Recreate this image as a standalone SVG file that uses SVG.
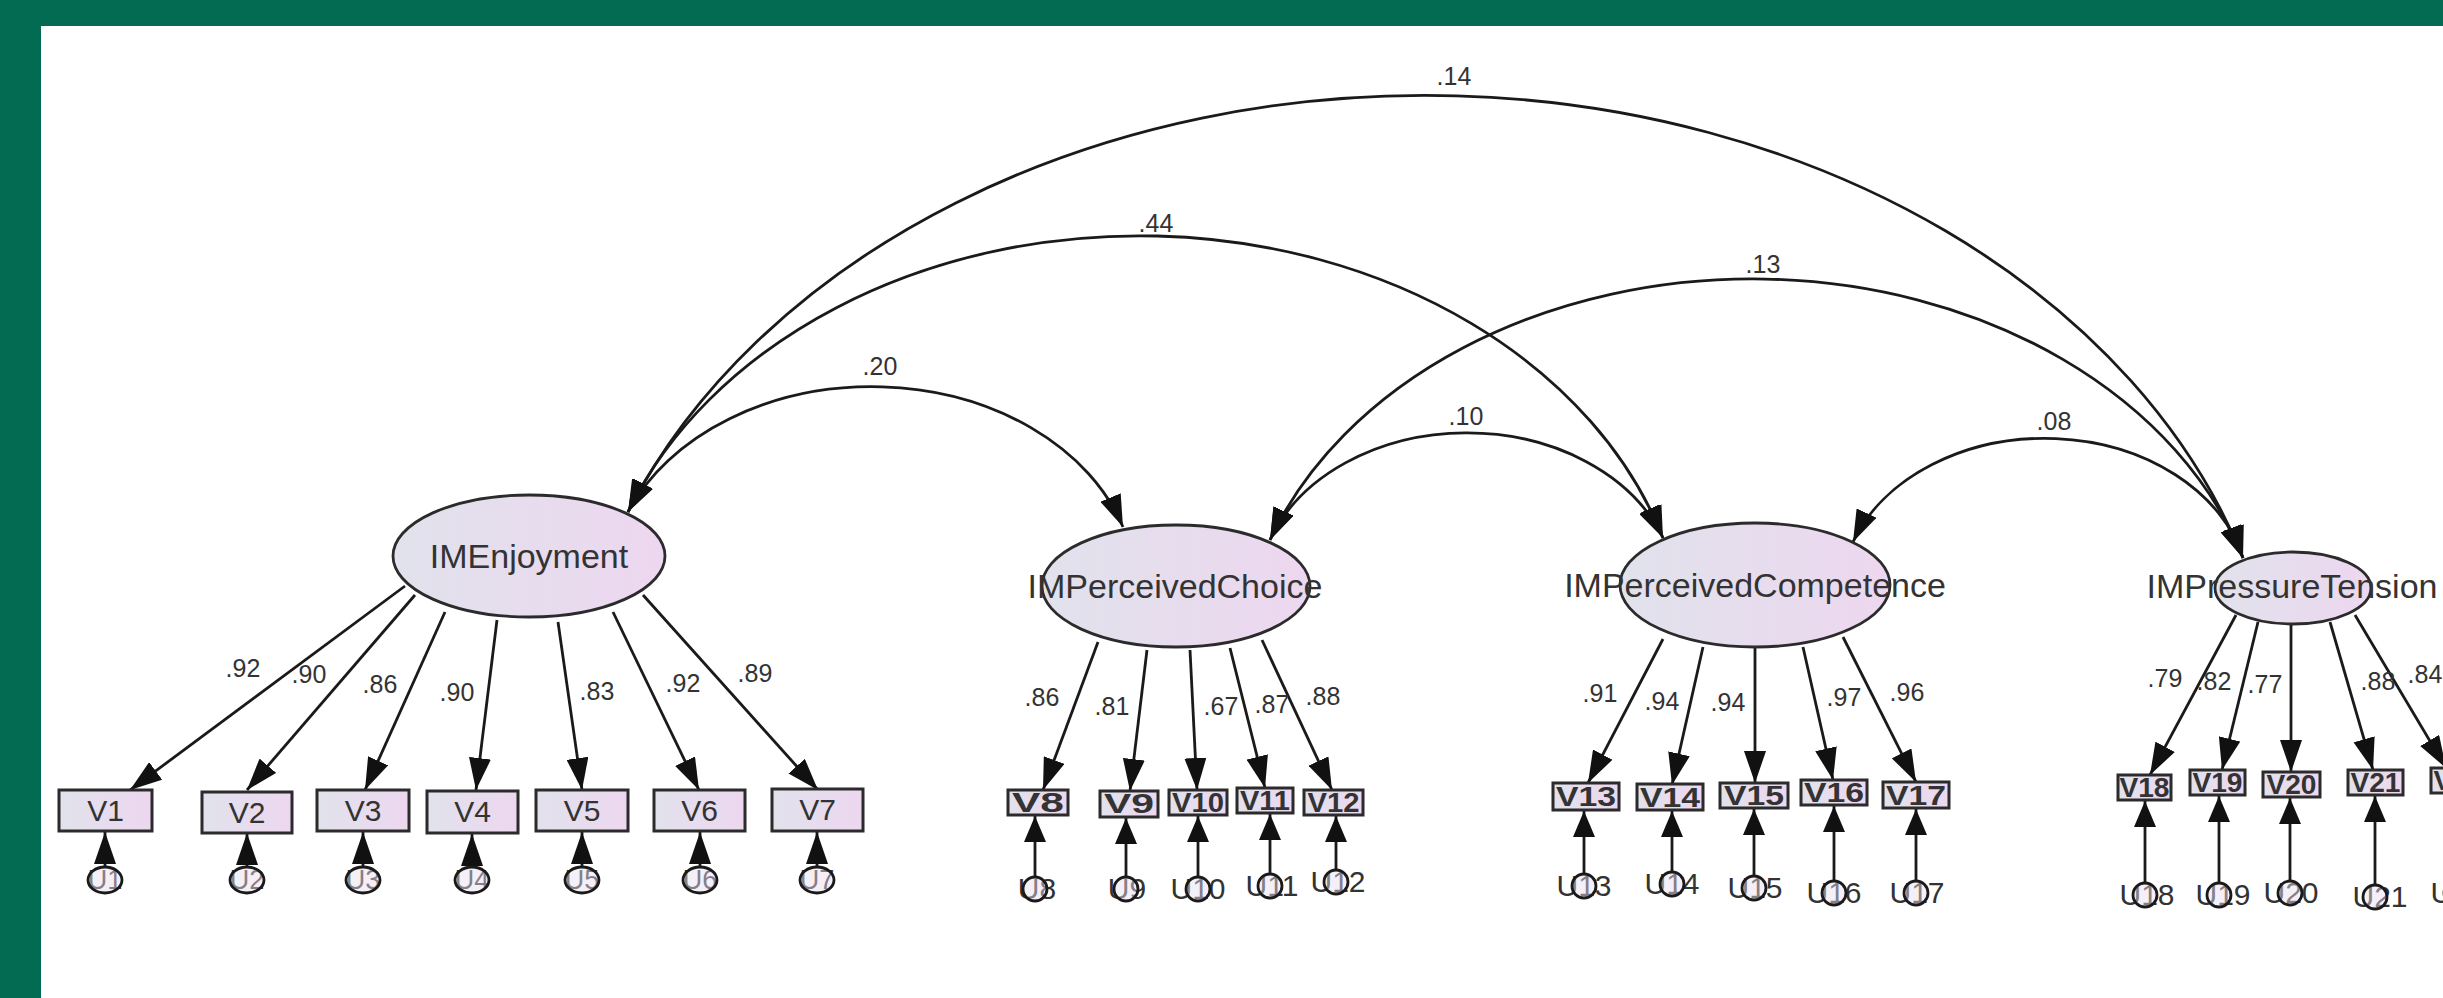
<svg xmlns="http://www.w3.org/2000/svg" width="2443" height="998" viewBox="0 0 2443 998">
<style>
.ln{fill:none;stroke:#1a1a1a;stroke-width:2.8}
.ld{marker-end:url(#ah)}
.cv{marker-start:url(#ah);marker-end:url(#ah)}
.er{marker-end:url(#ahs)}
.er1{marker-end:url(#ah)}
.lat{fill:url(#g);stroke:#2b2b2b;stroke-width:2.8}
.box{fill:url(#g);stroke:#2b2b2b;stroke-width:3}
.ec{fill:url(#g);fill-opacity:0.45;stroke:#1a1a1a;stroke-width:2.8}
.t{font-family:"Liberation Sans",Arial,sans-serif;fill:#333;text-anchor:middle}
.lt{font-size:34px}
.bt{font-size:30px}
.sb{font-size:27px;font-weight:bold}
.num{font-size:25px}
.et{font-size:30px}
.et1{font-size:27px}
</style>
<defs>
<linearGradient id="g" x1="0" y1="0" x2="1" y2="0">
<stop offset="0" stop-color="#E1E2EC"/>
<stop offset="1" stop-color="#EDD7F0"/>
</linearGradient>
<marker id="ah" viewBox="0 0 32 22" refX="32" refY="11" markerWidth="32" markerHeight="22" markerUnits="userSpaceOnUse" orient="auto-start-reverse">
<path d="M0,0 L32,11 L0,22 Z" fill="#111"/>
</marker>
<marker id="ahs" viewBox="0 0 26 22" refX="26" refY="11" markerWidth="26" markerHeight="22" markerUnits="userSpaceOnUse" orient="auto">
<path d="M0,0 L26,11 L0,22 Z" fill="#111"/>
</marker>
</defs>
<rect width="2443" height="998" fill="#fff"/>
<rect x="0" y="0" width="2443" height="26" fill="#036B52"/>
<rect x="0" y="0" width="41" height="998" fill="#036B52"/>

<g id="connectors">
<!-- covariances -->
<path class="ln cv" d="M628,512 A857,659 0 0 1 2243,558"/>
<path class="ln cv" d="M628,512 A548,430 0 0 1 1663,538"/>
<path class="ln cv" d="M628,512 A264,203 0 0 1 1123,527"/>
<path class="ln cv" d="M1270,540 A209,161 0 0 1 1663,538"/>
<path class="ln cv" d="M1270,540 A513,395 0 0 1 2243,558"/>
<path class="ln cv" d="M1853,542 A204,157 0 0 1 2243,558"/>
<!-- loadings -->
<path class="ln ld" d="M405,586 L130,790"/>
<path class="ln ld" d="M415,595 L247,790"/>
<path class="ln ld" d="M445,612 L365,790"/>
<path class="ln ld" d="M497,620 L476,790"/>
<path class="ln ld" d="M558,622 L582,790"/>
<path class="ln ld" d="M613,612 L699,790"/>
<path class="ln ld" d="M643,595 L818,790"/>
<path class="ln ld" d="M1098,642 L1043,790"/>
<path class="ln ld" d="M1147,650 L1130,791"/>
<path class="ln ld" d="M1190,650 L1197,790"/>
<path class="ln ld" d="M1230,648 L1265,788"/>
<path class="ln ld" d="M1262,640 L1332,790"/>
<path class="ln ld" d="M1663,639 L1588,783"/>
<path class="ln ld" d="M1703,647 L1672,785"/>
<path class="ln ld" d="M1755,648 L1755,783"/>
<path class="ln ld" d="M1803,647 L1833,780"/>
<path class="ln ld" d="M1843,637 L1916,782"/>
<path class="ln ld" d="M2236,615 L2150,775"/>
<path class="ln ld" d="M2258,622 L2222,770"/>
<path class="ln ld" d="M2291,623 L2291,772"/>
<path class="ln ld" d="M2330,622 L2373,770"/>
<path class="ln ld" d="M2355,615 L2446,768"/>
<!-- error arrows -->
<path class="ln er1" d="M105,868 L105,832"/>
<path class="ln er1" d="M247,868 L247,833"/>
<path class="ln er1" d="M363,868 L363,832"/>
<path class="ln er1" d="M472,868 L472,834"/>
<path class="ln er1" d="M582,868 L582,832"/>
<path class="ln er1" d="M700,868 L700,832"/>
<path class="ln er1" d="M817,868 L817,832"/>
<path class="ln er" d="M1035,877 L1035,816"/>
<path class="ln er" d="M1126,877 L1126,818"/>
<path class="ln er" d="M1198,877 L1198,816"/>
<path class="ln er" d="M1270,874 L1270,814"/>
<path class="ln er" d="M1336,870 L1336,816"/>
<path class="ln er" d="M1584,874 L1584,811"/>
<path class="ln er" d="M1672,872 L1672,811"/>
<path class="ln er" d="M1754,876 L1754,809"/>
<path class="ln er" d="M1834,881 L1834,806"/>
<path class="ln er" d="M1916,881 L1916,809"/>
<path class="ln er" d="M2145,883 L2145,801"/>
<path class="ln er" d="M2219,883 L2219,796"/>
<path class="ln er" d="M2290,881 L2290,798"/>
<path class="ln er" d="M2375,885 L2375,796"/>
<path class="ln er" d="M2456,881 L2456,794"/>
<!-- labels -->
<g class="t num">
<text x="1454" y="85">.14</text>
<text x="1156" y="232">.44</text>
<text x="880" y="375">.20</text>
<text x="1466" y="425">.10</text>
<text x="1763" y="273">.13</text>
<text x="2054" y="430">.08</text>
<text x="243" y="677">.92</text>
<text x="309" y="683">.90</text>
<text x="380" y="693">.86</text>
<text x="457" y="701">.90</text>
<text x="597" y="700">.83</text>
<text x="683" y="692">.92</text>
<text x="755" y="682">.89</text>
<text x="1042" y="706">.86</text>
<text x="1112" y="715">.81</text>
<text x="1221" y="715">.67</text>
<text x="1272" y="713">.87</text>
<text x="1323" y="705">.88</text>
<text x="1600" y="702">.91</text>
<text x="1662" y="710">.94</text>
<text x="1728" y="711">.94</text>
<text x="1844" y="706">.97</text>
<text x="1907" y="701">.96</text>
<text x="2165" y="687">.79</text>
<text x="2214" y="690">.82</text>
<text x="2265" y="693">.77</text>
<text x="2378" y="690">.88</text>
<text x="2425" y="683">.84</text>
</g>
</g>

<g id="IMEnjoyment"><ellipse class="lat" cx="529" cy="556" rx="136" ry="61"/><text class="t lt" x="529" y="568">IMEnjoyment</text></g>
<g id="IMPerceivedChoice"><ellipse class="lat" cx="1176" cy="586" rx="134" ry="61"/><text class="t lt" x="1175" y="598">IMPerceivedChoice</text></g>
<g id="IMPerceivedCompetence"><ellipse class="lat" cx="1755" cy="585" rx="135" ry="62"/><text class="t lt" x="1755" y="597">IMPerceivedCompetence</text></g>
<g id="IMPressureTension"><ellipse class="lat" cx="2293" cy="588" rx="78" ry="36"/><text class="t lt" x="2292" y="598" font-size="33">IMPressureTension</text></g>

<g id="V1"><rect class="box" x="59" y="790" width="93" height="41"/><text class="t bt" x="105.5" y="821">V1</text></g>
<g id="V2"><rect class="box" x="202" y="792" width="90" height="41"/><text class="t bt" x="247" y="823">V2</text></g>
<g id="V3"><rect class="box" x="317" y="790" width="92" height="41"/><text class="t bt" x="363" y="821">V3</text></g>
<g id="V4"><rect class="box" x="427" y="791" width="91" height="42"/><text class="t bt" x="472.5" y="822">V4</text></g>
<g id="V5"><rect class="box" x="536" y="790" width="92" height="41"/><text class="t bt" x="582" y="821">V5</text></g>
<g id="V6"><rect class="box" x="654" y="790" width="91" height="41"/><text class="t bt" x="699.5" y="821">V6</text></g>
<g id="V7"><rect class="box" x="772" y="789" width="91" height="42"/><text class="t bt" x="817.5" y="820">V7</text></g>

<g id="V8"><rect class="box" x="1008" y="790" width="60" height="25"/><text class="t sb" x="1038" y="812" textLength="52" lengthAdjust="spacingAndGlyphs">V8</text></g>
<g id="V9"><rect class="box" x="1100" y="791" width="58" height="26"/><text class="t sb" x="1129" y="813" textLength="50" lengthAdjust="spacingAndGlyphs">V9</text></g>
<g id="V10"><rect class="box" x="1169" y="790" width="58" height="25"/><text class="t sb" x="1198" y="812" textLength="52" lengthAdjust="spacingAndGlyphs">V10</text></g>
<g id="V11"><rect class="box" x="1237" y="788" width="56" height="25"/><text class="t sb" x="1265" y="810" textLength="50" lengthAdjust="spacingAndGlyphs">V11</text></g>
<g id="V12"><rect class="box" x="1304" y="790" width="59" height="25"/><text class="t sb" x="1333.5" y="812" textLength="52" lengthAdjust="spacingAndGlyphs">V12</text></g>

<g id="V13"><rect class="box" x="1553" y="783" width="66" height="27"/><text class="t sb" x="1586" y="806" textLength="60" lengthAdjust="spacingAndGlyphs">V13</text></g>
<g id="V14"><rect class="box" x="1637" y="784" width="66" height="26"/><text class="t sb" x="1670" y="807" textLength="60" lengthAdjust="spacingAndGlyphs">V14</text></g>
<g id="V15"><rect class="box" x="1720" y="783" width="68" height="25"/><text class="t sb" x="1754" y="805" textLength="60" lengthAdjust="spacingAndGlyphs">V15</text></g>
<g id="V16"><rect class="box" x="1801" y="780" width="66" height="25"/><text class="t sb" x="1834" y="802" textLength="60" lengthAdjust="spacingAndGlyphs">V16</text></g>
<g id="V17"><rect class="box" x="1883" y="782" width="66" height="26"/><text class="t sb" x="1916" y="805" textLength="60" lengthAdjust="spacingAndGlyphs">V17</text></g>

<g id="V18"><rect class="box" x="2118" y="775" width="53" height="25"/><text class="t sb" x="2144.5" y="797" textLength="50" lengthAdjust="spacingAndGlyphs">V18</text></g>
<g id="V19"><rect class="box" x="2190" y="770" width="55" height="25"/><text class="t sb" x="2217.5" y="792" textLength="50" lengthAdjust="spacingAndGlyphs">V19</text></g>
<g id="V20"><rect class="box" x="2263" y="772" width="57" height="25"/><text class="t sb" x="2291.5" y="794" textLength="50" lengthAdjust="spacingAndGlyphs">V20</text></g>
<g id="V21"><rect class="box" x="2348" y="770" width="55" height="25"/><text class="t sb" x="2375.5" y="792" textLength="50" lengthAdjust="spacingAndGlyphs">V21</text></g>
<g id="V22"><rect class="box" x="2431" y="768" width="55" height="25"/><text class="t sb" x="2458.5" y="790" textLength="50" lengthAdjust="spacingAndGlyphs">V22</text></g>

<g id="U1"><text class="t et1" x="105" y="889">U1</text><ellipse class="ec" cx="105" cy="880" rx="17" ry="13"/></g>
<g id="U2"><text class="t et1" x="247" y="889">U2</text><ellipse class="ec" cx="247" cy="880" rx="17" ry="13"/></g>
<g id="U3"><text class="t et1" x="363" y="889">U3</text><ellipse class="ec" cx="363" cy="880" rx="17" ry="13"/></g>
<g id="U4"><text class="t et1" x="472" y="889">U4</text><ellipse class="ec" cx="472" cy="880" rx="17" ry="13"/></g>
<g id="U5"><text class="t et1" x="582" y="889">U5</text><ellipse class="ec" cx="582" cy="880" rx="17" ry="13"/></g>
<g id="U6"><text class="t et1" x="700" y="889">U6</text><ellipse class="ec" cx="700" cy="880" rx="17" ry="13"/></g>
<g id="U7"><text class="t et1" x="817" y="889">U7</text><ellipse class="ec" cx="817" cy="880" rx="17" ry="13"/></g>

<g id="U8"><text class="t et" x="1037" y="899">U8</text><ellipse class="ec" cx="1035" cy="889" rx="12" ry="12"/></g>
<g id="U9"><text class="t et" x="1127" y="899">U9</text><ellipse class="ec" cx="1126" cy="889" rx="12" ry="12"/></g>
<g id="U10"><text class="t et" x="1198" y="899">U10</text><ellipse class="ec" cx="1198" cy="889" rx="12" ry="12"/></g>
<g id="U11"><text class="t et" x="1272" y="896">U11</text><ellipse class="ec" cx="1270" cy="886" rx="12" ry="12"/></g>
<g id="U12"><text class="t et" x="1338" y="892">U12</text><ellipse class="ec" cx="1336" cy="882" rx="12" ry="12"/></g>

<g id="U13"><text class="t et" x="1584" y="896">U13</text><ellipse class="ec" cx="1584" cy="886" rx="12" ry="12"/></g>
<g id="U14"><text class="t et" x="1672" y="894">U14</text><ellipse class="ec" cx="1672" cy="884" rx="12" ry="12"/></g>
<g id="U15"><text class="t et" x="1755" y="898">U15</text><ellipse class="ec" cx="1754" cy="888" rx="12" ry="12"/></g>
<g id="U16"><text class="t et" x="1834" y="903">U16</text><ellipse class="ec" cx="1834" cy="893" rx="12" ry="12"/></g>
<g id="U17"><text class="t et" x="1917" y="903">U17</text><ellipse class="ec" cx="1916" cy="893" rx="12" ry="12"/></g>

<g id="U18"><text class="t et" x="2147" y="905">U18</text><ellipse class="ec" cx="2145" cy="895" rx="12" ry="12"/></g>
<g id="U19"><text class="t et" x="2223" y="905">U19</text><ellipse class="ec" cx="2219" cy="895" rx="12" ry="12"/></g>
<g id="U20"><text class="t et" x="2291" y="903">U20</text><ellipse class="ec" cx="2290" cy="893" rx="12" ry="12"/></g>
<g id="U21"><text class="t et" x="2380" y="907">U21</text><ellipse class="ec" cx="2375" cy="897" rx="12" ry="12"/></g>
<g id="U22"><text class="t et" x="2458" y="903">U22</text><ellipse class="ec" cx="2456" cy="893" rx="12" ry="12"/></g>
</svg>
